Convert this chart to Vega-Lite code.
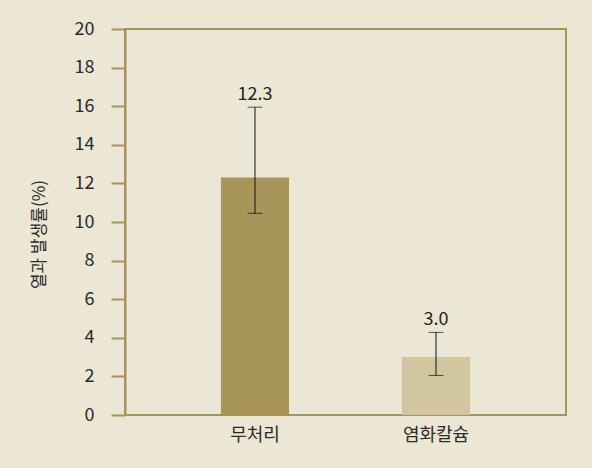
{
  "$schema": "https://vega.github.io/schema/vega-lite/v6.json",
  "autosize": "none",
  "width": 441,
  "height": 386,
  "padding": {"left": 125, "top": 29, "right": 26, "bottom": 53},
  "background": "#ece6d5",
  "config": {
    "font": "Noto Sans CJK KR",
    "view": {"stroke": "#a89457", "strokeWidth": 2},
    "axis": {"labelColor": "#2a2a2a", "titleColor": "#2a2a2a", "labelFontSize": 18, "grid": false},
    "axisY": {
      "titleFontSize": 17,
      "titleFontWeight": "normal",
      "titleX": -86,
      "titleY": 205,
      "titleBaseline": "middle",
      "labelOverlap": false,
      "domainColor": "#a89457",
      "domainWidth": 2,
      "tickColor": "#a89457",
      "tickWidth": 2,
      "tickSize": 14,
      "labelPadding": 17
    }
  },
  "data": {
    "values": [
      {"group": "무처리", "rate": 12.3, "lower": 10.45, "upper": 15.95, "label": "12.3"},
      {"group": "염화칼슘", "rate": 3.0, "lower": 2.05, "upper": 4.28, "label": "3.0"}
    ]
  },
  "encoding": {
    "x": {
      "field": "group",
      "type": "nominal",
      "sort": null,
      "scale": {"paddingInner": 0.624, "paddingOuter": 0.53},
      "axis": {"title": null, "labelAngle": 0, "ticks": false, "domain": false, "labelPadding": 11, "labelFontSize": 18}
    }
  },
  "layer": [
    {
      "mark": {"type": "bar"},
      "encoding": {
        "y": {
          "field": "rate",
          "type": "quantitative",
          "scale": {"domain": [0, 20]},
          "axis": {"title": "열과 발생률(%)", "values": [0, 2, 4, 6, 8, 10, 12, 14, 16, 18, 20]}
        },
        "color": {
          "field": "group",
          "type": "nominal",
          "scale": {"domain": ["무처리", "염화칼슘"], "range": ["#a8955a", "#d2c6a1"]},
          "legend": null
        }
      }
    },
    {
      "mark": {"type": "rule", "color": "#111111", "strokeWidth": 1},
      "encoding": {
        "y": {"field": "lower", "type": "quantitative", "axis": {"title": "열과 발생률(%)", "values": [0, 2, 4, 6, 8, 10, 12, 14, 16, 18, 20]}},
        "y2": {"field": "upper"}
      }
    },
    {
      "mark": {"type": "tick", "color": "#111111", "thickness": 1, "size": 15},
      "encoding": {"y": {"field": "lower", "type": "quantitative", "axis": {"title": "열과 발생률(%)", "values": [0, 2, 4, 6, 8, 10, 12, 14, 16, 18, 20]}}}
    },
    {
      "mark": {"type": "tick", "color": "#111111", "thickness": 1, "size": 15},
      "encoding": {"y": {"field": "upper", "type": "quantitative", "axis": {"title": "열과 발생률(%)", "values": [0, 2, 4, 6, 8, 10, 12, 14, 16, 18, 20]}}}
    },
    {
      "mark": {"type": "text", "baseline": "bottom", "dy": -3, "fontSize": 18, "color": "#222222"},
      "encoding": {
        "y": {"field": "upper", "type": "quantitative", "axis": {"title": "열과 발생률(%)", "values": [0, 2, 4, 6, 8, 10, 12, 14, 16, 18, 20]}},
        "text": {"field": "label"}
      }
    }
  ]
}
